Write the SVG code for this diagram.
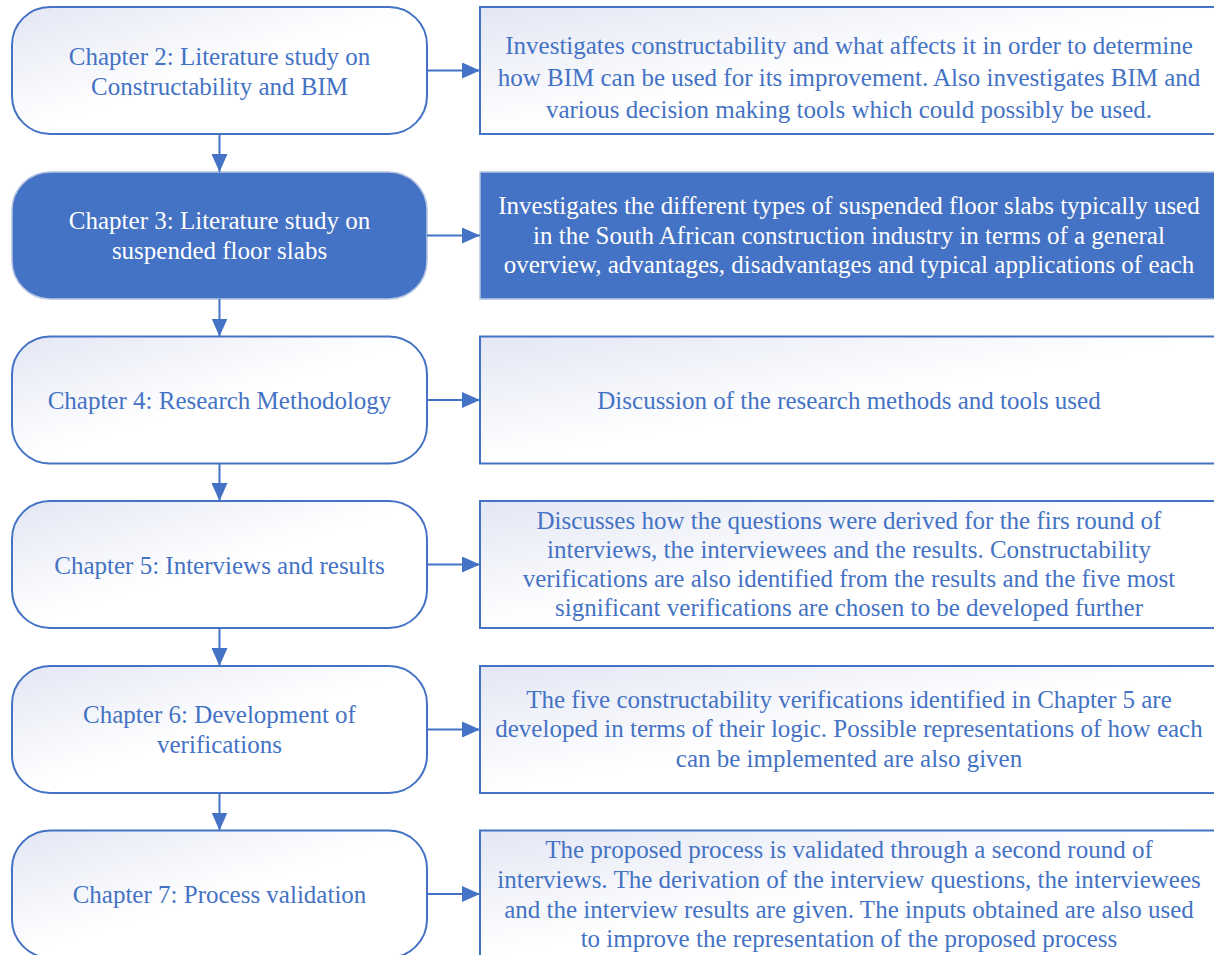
<svg xmlns="http://www.w3.org/2000/svg" width="1214" height="955" viewBox="0 0 1214 955">
  <defs>
    <linearGradient id="soft" x1="0" y1="0" x2="1" y2="1">
      <stop offset="0" stop-color="#e3e7f4"/>
      <stop offset="0.5" stop-color="#ffffff"/>
      <stop offset="1" stop-color="#ffffff"/>
    </linearGradient>
    <marker id="head" viewBox="0 0 18 16" refX="18" refY="8" markerWidth="18" markerHeight="16" markerUnits="userSpaceOnUse" orient="auto">
      <path d="M0,0 L18,8 L0,16 Z" fill="#4472c4"/>
    </marker>
    <style>
      .chap { fill: url(#soft); stroke: #4472c4; stroke-width: 2; }
      .chap-hl { fill: #4472c4; stroke: #b7c5e3; stroke-width: 1.5; }
      .desc { fill: url(#soft); stroke: #4472c4; stroke-width: 2; }
      .desc-hl { fill: #4472c4; stroke: #b7c5e3; stroke-width: 1.5; }
      text { font-size: 25px; fill: #4472c4; text-anchor: middle; }
      text.inv { fill: #ffffff; }
      .link { stroke: #4472c4; stroke-width: 2; fill: none; marker-end: url(#head); }
    </style>
  </defs>

  <g font-family="'Liberation Serif', 'DejaVu Serif', serif">
  <!-- chapter / description pairs -->
  <g id="ch2">
    <rect class="chap" x="12" y="7" width="415" height="127" rx="38" ry="38"/>
    <text x="219.5" y="64.5">Chapter 2: Literature study on</text>
    <text x="219.5" y="94.5">Constructability and BIM</text>
  </g>
  <g id="ch2-desc">
    <rect class="desc" x="480" y="7" width="740" height="127"/>
    <text x="849" y="54">Investigates constructability and what affects it in order to determine</text>
    <text x="849" y="86">how BIM can be used for its improvement. Also investigates BIM and</text>
    <text x="849" y="117.5">various decision making tools which could possibly be used.</text>
  </g>

  <g id="ch3">
    <rect class="chap-hl" x="12" y="172" width="415" height="127" rx="38" ry="38"/>
    <text class="inv" x="219.5" y="229">Chapter 3: Literature study on</text>
    <text class="inv" x="219.5" y="259">suspended floor slabs</text>
  </g>
  <g id="ch3-desc">
    <rect class="desc-hl" x="480" y="172" width="740" height="127"/>
    <text class="inv" x="849" y="214">Investigates the different types of suspended floor slabs typically used</text>
    <text class="inv" x="849" y="243.5">in the South African construction industry in terms of a general</text>
    <text class="inv" x="849" y="273">overview, advantages, disadvantages and typical applications of each</text>
  </g>

  <g id="ch4">
    <rect class="chap" x="12" y="336.5" width="415" height="127" rx="38" ry="38"/>
    <text x="219.5" y="409">Chapter 4: Research Methodology</text>
  </g>
  <g id="ch4-desc">
    <rect class="desc" x="480" y="336.5" width="740" height="127"/>
    <text x="849" y="409">Discussion of the research methods and tools used</text>
  </g>

  <g id="ch5">
    <rect class="chap" x="12" y="501" width="415" height="127" rx="38" ry="38"/>
    <text x="219.5" y="573.5">Chapter 5: Interviews and results</text>
  </g>
  <g id="ch5-desc">
    <rect class="desc" x="480" y="501" width="740" height="127"/>
    <text x="849" y="529">Discusses how the questions were derived for the firs round of</text>
    <text x="849" y="558">interviews, the interviewees and the results. Constructability</text>
    <text x="849" y="587">verifications are also identified from the results and the five most</text>
    <text x="849" y="616">significant verifications are chosen to be developed further</text>
  </g>

  <g id="ch6">
    <rect class="chap" x="12" y="666" width="415" height="127" rx="38" ry="38"/>
    <text x="219.5" y="723">Chapter 6: Development of</text>
    <text x="219.5" y="753">verifications</text>
  </g>
  <g id="ch6-desc">
    <rect class="desc" x="480" y="666" width="740" height="127"/>
    <text x="849" y="707.5">The five constructability verifications identified in Chapter 5 are</text>
    <text x="849" y="737">developed in terms of their logic. Possible representations of how each</text>
    <text x="849" y="766.5">can be implemented are also given</text>
  </g>

  <g id="ch7">
    <rect class="chap" x="12" y="830.5" width="415" height="127" rx="38" ry="38"/>
    <text x="219.5" y="902.5">Chapter 7: Process validation</text>
  </g>
  <g id="ch7-desc">
    <rect class="desc" x="480" y="830.5" width="740" height="127"/>
    <text x="849" y="858">The proposed process is validated through a second round of</text>
    <text x="849" y="888">interviews. The derivation of the interview questions, the interviewees</text>
    <text x="849" y="917.5">and the interview results are given. The inputs obtained are also used</text>
    <text x="849" y="947">to improve the representation of the proposed process</text>
  </g>
  </g>

  <!-- connectors -->
  <g id="connectors">
    <line class="link" x1="427" y1="70.5" x2="480" y2="70.5"/>
    <line class="link" x1="427" y1="235.5" x2="480" y2="235.5"/>
    <line class="link" x1="427" y1="400" x2="480" y2="400"/>
    <line class="link" x1="427" y1="564.5" x2="480" y2="564.5"/>
    <line class="link" x1="427" y1="729.5" x2="480" y2="729.5"/>
    <line class="link" x1="427" y1="894" x2="480" y2="894"/>
    <line class="link" x1="219.5" y1="134" x2="219.5" y2="172"/>
    <line class="link" x1="219.5" y1="299" x2="219.5" y2="336.5"/>
    <line class="link" x1="219.5" y1="463.5" x2="219.5" y2="501"/>
    <line class="link" x1="219.5" y1="628" x2="219.5" y2="666"/>
    <line class="link" x1="219.5" y1="793" x2="219.5" y2="830.5"/>
  </g>
</svg>
